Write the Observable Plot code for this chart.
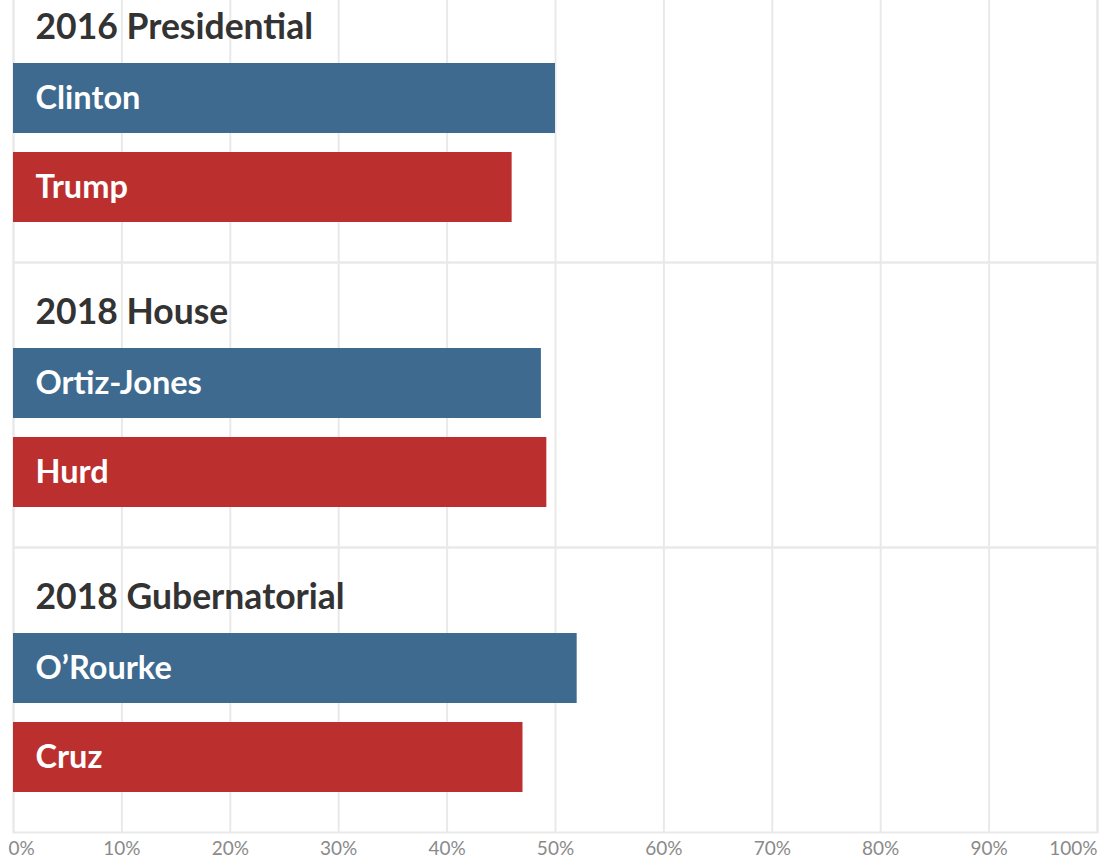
<!DOCTYPE html>
<html><head><meta charset="utf-8">
<script src="https://cdn.jsdelivr.net/npm/d3@7"></script>
<script src="https://cdn.jsdelivr.net/npm/@observablehq/plot@0.6"></script>
<style>
html,body{margin:0;padding:0;background:#fff;overflow:hidden;}
#chart svg{display:block;margin-top:-23px;}
</style></head><body><div id="chart"></div>
<script>
const elections = ["2016 Presidential", "2018 House", "2018 Gubernatorial"];
const candidates = ["Clinton", "Trump", "Ortiz-Jones", "Hurd", "O’Rourke", "Cruz"];
const races = ["2016 Presidential", "2016 Presidential", "2018 House", "2018 House", "2018 Gubernatorial", "2018 Gubernatorial"];
const parties = ["D", "R", "D", "R", "D", "R"];
const shares = [50.0, 46.0, 48.7, 49.2, 52.0, 47.0];
const tickValues = [0, 10, 20, 30, 40, 50, 60, 70, 80, 90, 100];
const tickLabels = ["0%", "10%", "20%", "30%", "40%", "50%", "60%", "70%", "80%", "90%", "100%"];
const partyColors = ["#3e6a90", "#bb2f2f"];

const rows = candidates.map((c, i) => ({candidate: c, race: races[i], party: parties[i], share: shares[i]}));
const lastRace = elections[elections.length - 1];
const ticks = tickValues.map((v, i) => ({value: v, label: tickLabels[i], race: lastRace}));

const tickStyle = {x: "value", fy: "race", text: "label", frameAnchor: "bottom", dy: 16, lineAnchor: "middle", fontSize: 19, fill: "#8a8a8a"};

const chart = Plot.plot({
  width: 1115,
  height: 882,
  marginLeft: 13,
  marginRight: 18,
  marginTop: 0,
  marginBottom: 27,
  x: {domain: [0, 100], axis: null},
  y: {domain: ["D", "R"], axis: null, paddingInner: 0.2167, paddingOuter: 0.6917, align: 0.683},
  fy: {domain: elections, axis: null, padding: 0},
  color: {domain: ["D", "R"], range: partyColors},
  style: {fontFamily: "Lato, sans-serif", background: "#fff"},
  marks: [
    Plot.ruleX(tickValues, {x: d => d, stroke: "#e9e9e9", strokeWidth: 2}),
    Plot.frame({stroke: "#e9e9e9", strokeWidth: 2}),
    Plot.barX(rows, {x: "share", y: "party", fy: "race", fill: "party"}),
    Plot.text(rows, {x: 0, y: "party", fy: "race", text: "candidate", dx: 22, textAnchor: "start", fill: "white", fontSize: 32.5, fontWeight: 700}),
    Plot.text(elections, {fy: d => d, text: d => d, frameAnchor: "top-left", dx: 22, dy: 50, lineAnchor: "middle", fontSize: 35.5, fontWeight: 700, fill: "#333"}),
    Plot.text(ticks.slice(0, 1), {...tickStyle, textAnchor: "start", dx: -5}),
    Plot.text(ticks.slice(1, -1), {...tickStyle, textAnchor: "middle"}),
    Plot.text(ticks.slice(-1), {...tickStyle, textAnchor: "end"})
  ]
});
document.getElementById("chart").appendChild(chart);
</script>
</body></html>
